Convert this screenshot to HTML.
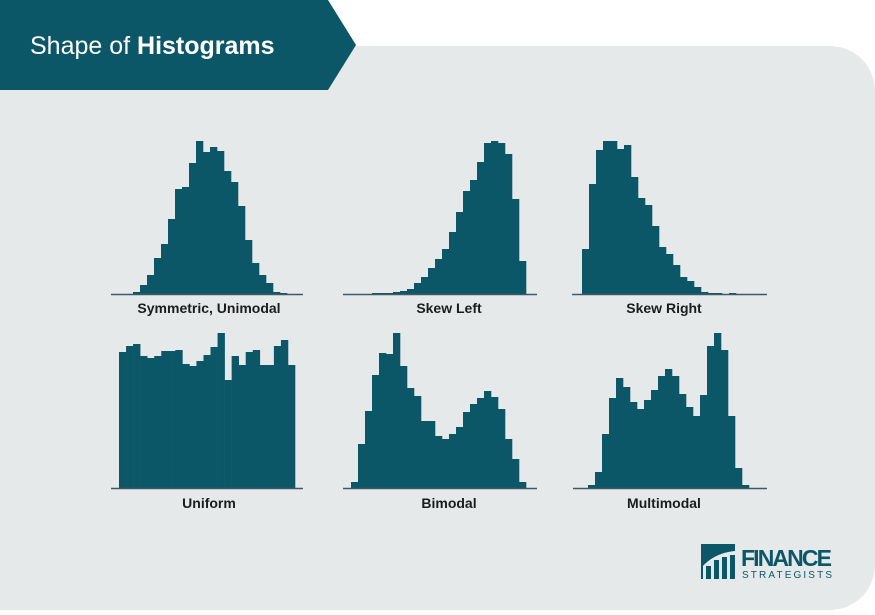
<!DOCTYPE html>
<html><head><meta charset="utf-8"><style>
html,body{margin:0;padding:0;background:#fff;}
body{width:875px;height:610px;overflow:hidden;font-family:"Liberation Sans",sans-serif;}
</style></head><body>
<svg width="875" height="610" viewBox="0 0 875 610" xmlns="http://www.w3.org/2000/svg">
<path d="M0,46 H830 A45,45 0 0 1 875,91 V565 A45,45 0 0 1 830,610 H0 Z" fill="#e6e9ea"/>
<polygon points="0,0 328,0 356,45 328,90 0,90" fill="#0b5767"/>
<text x="30" y="54" font-size="25" fill="#fff" font-family="Liberation Sans, sans-serif">Shape of <tspan font-weight="bold">Histograms</tspan></text>
<g id="charts"></g>
<g>
<path d="M701,544 H735 V551 C722,552 710,558 703,566 V579 H701 Z" fill="#0b5767"/>
<rect x="706" y="566" width="5" height="13" fill="#0b5767"/>
<rect x="714" y="560" width="5" height="19" fill="#0b5767"/>
<rect x="722" y="557" width="5" height="22" fill="#0b5767"/>
<rect x="730" y="555" width="5" height="24" fill="#0b5767"/>
<text x="741" y="566" font-size="23" font-weight="bold" fill="#0b5767" textLength="91">FINANCE</text>
<text x="742" y="578" font-size="10" fill="#0b5767" textLength="90">STRATEGISTS</text>
</g>
</svg>
<script>
const sym=[2,9,19,36,50,75,105,107,131,153,142,147,143,123,112,88,54,31,19,11,2,1];
const skewL=[1,1,1,2,3,5,11,17,26,35,45,62,82,103,114,132,151,153,151,140,95,33];
const skewR=[45,110,144,153,153,145,149,117,96,89,68,47,40,29,17,13,7,2,1,1,0,1];
const uniform=[136,142,144,132,130,132,137,137,138,124,122,127,133,141,155,108,132,123,136,138,123,123,142,148,123];
const bimodal=[6,44,77,113,135,134,155,122,100,92,67,67,52,49,54,61,76,84,90,97,91,79,49,29,6];
const multimodal=[3,16,54,90,110,101,86,79,88,98,112,119,112,94,81,72,93,142,155,138,72,20,3];
const labels=["Symmetric, Unimodal","Skew Left","Skew Right","Uniform","Bimodal","Multimodal"];
const ns="http://www.w3.org/2000/svg";
const g=document.getElementById('charts');
const specs=[
 {d:sym,x0:133,bw:7,base:294,l0:111,l1:303,lx:209,ly:313,name:'symmetric'},
 {d:skewL,x0:372,bw:7,base:294,l0:343,l1:537,lx:449,ly:313,name:'skew-left'},
 {d:skewR,x0:582,bw:7,base:294,l0:572,l1:767,lx:664,ly:313,name:'skew-right'},
 {d:uniform,x0:119,bw:7.04,base:488,l0:111,l1:303,lx:209,ly:508,name:'uniform'},
 {d:bimodal,x0:351,bw:7,base:488,l0:343,l1:537,lx:449,ly:508,name:'bimodal'},
 {d:multimodal,x0:588,bw:7,base:488,l0:573,l1:767,lx:664,ly:508,name:'multimodal'}
];
function yScale(s,v){return s.base-v;}
function xScale(s,i){return s.x0+i*s.bw;}
specs.forEach((s,k)=>{
 const grp=document.createElementNS(ns,'g');
 
 
 s.d.forEach((v,i)=>{
  const r=document.createElementNS(ns,'rect');
  
  
  r.setAttribute('x',xScale(s,i));
  r.setAttribute('y',yScale(s,v));
  r.setAttribute('width',s.bw+0.3);
  r.setAttribute('height',v);
  r.setAttribute('fill','#0b5767');
  grp.appendChild(r);
 });
 const ln=document.createElementNS(ns,'line');
 
 
 ln.setAttribute('x1',s.l0);ln.setAttribute('x2',s.l1);
 ln.setAttribute('y1',s.base+0.5);ln.setAttribute('y2',s.base+0.5);
 ln.setAttribute('stroke','#3f5a63');ln.setAttribute('stroke-width','1.5');
 grp.appendChild(ln);
 const t=document.createElementNS(ns,'text');
 
 
 t.setAttribute('x',s.lx);t.setAttribute('y',s.ly);
 t.setAttribute('text-anchor','middle');
 t.setAttribute('font-size','14');t.setAttribute('font-weight','bold');
 t.setAttribute('fill','#1c1c1c');
 t.textContent=labels[k];
 grp.appendChild(t);
 g.appendChild(grp);
});
</script>
</body></html>
